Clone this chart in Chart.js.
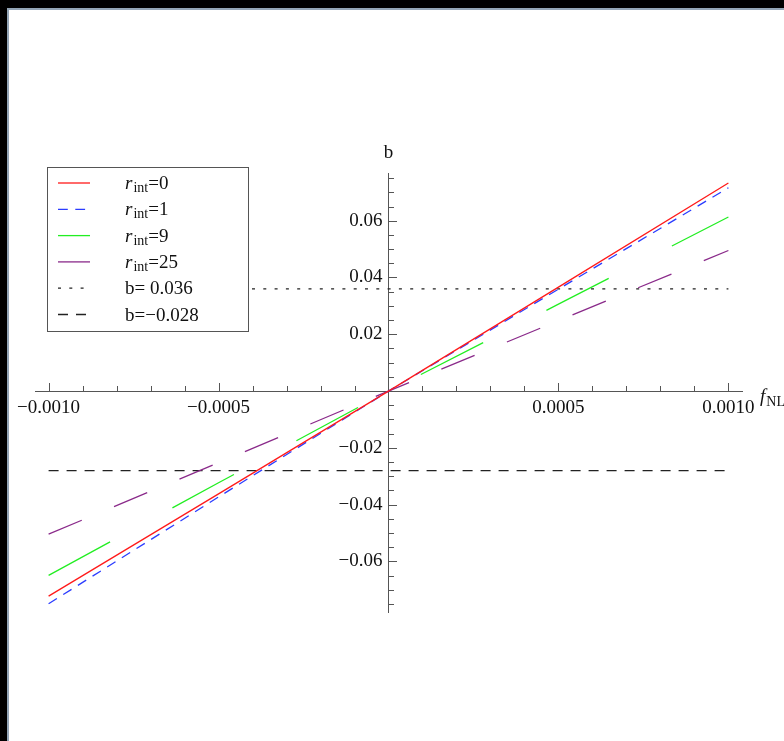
<!DOCTYPE html>
<html>
<head>
<meta charset="utf-8">
<script src="https://cdn.jsdelivr.net/npm/chart.js@4/dist/chart.umd.min.js"></script>
<style>
  html, body { margin: 0; padding: 0; background: #000; width: 784px; height: 741px; overflow: hidden; }
  #frame { position: absolute; left: 7px; top: 8px; width: 775px; height: 731px; background: #fff;
           border-left: 2px solid #93a5b6; border-top: 2px solid #93a5b6; }
  #c { position: absolute; left: 0; top: 0; }
</style>
</head>
<body>
<div id="frame"></div>
<canvas id="c" width="784" height="741"></canvas>
<script>
// ---- data ----
const fnlValues = [-0.001, -0.0005, 0, 0.0005, 0.001];
const bRint0  = [-0.0722, -0.0362, 0, 0.0366, 0.0733];
const bRint1  = [-0.0749, -0.0373, 0, 0.0359, 0.0716];
const bRint9  = [-0.0649, -0.0323, 0, 0.0306, 0.0613];
const bRint25 = [-0.0504, -0.0252, 0, 0.0248, 0.0495];
const hLineFnl = [-0.001, 0.001];
const bUpper = 0.036;
const bLower = -0.028;
const seriesNames = ['r_int=0', 'r_int=1', 'r_int=9', 'r_int=25', 'b= 0.036', 'b=\u22120.028'];
const xTickValues = [-0.001, -0.0005, 0.0005, 0.001];
const xTickLabels = ['\u22120.0010', '\u22120.0005', '0.0005', '0.0010'];
const yTickValues = [-0.06, -0.04, -0.02, 0.02, 0.04, 0.06];
const yTickLabels = ['\u22120.06', '\u22120.04', '\u22120.02', '0.02', '0.04', '0.06'];

const SERIF = '"Liberation Serif", "Times New Roman", serif';
const pts = (xs, ys) => xs.map((x, i) => ({x, y: ys[i]}));
const flat = (xs, v) => xs.map(x => ({x, y: v}));

const styles = [
  {borderColor: '#ff1a1a', borderDash: []},
  {borderColor: '#2b3cff', borderDash: [9.8, 7.5]},
  {borderColor: '#22ee22', borderDash: [70, 71]},
  {borderColor: '#8a2a8a', borderDash: [36, 35]},
  {borderColor: '#222222', borderDash: [3, 8.3]},
  {borderColor: '#222222', borderDash: [10, 8]}
];
const seriesData = [
  pts(fnlValues, bRint0), pts(fnlValues, bRint1), pts(fnlValues, bRint9), pts(fnlValues, bRint25),
  flat(hLineFnl, bUpper), flat(hLineFnl, bLower)
];
const datasets = seriesData.map((d, i) => Object.assign({
  label: seriesNames[i], data: d, borderWidth: 1.3, pointRadius: 0, fill: false, tension: 0
}, styles[i]));

const decoPlugin = {
  id: 'deco',
  afterDraw(chart) {
    const {ctx, scales: {x, y}} = chart;
    const x0 = x.getPixelForValue(0), y0 = y.getPixelForValue(0);
    ctx.save();
    ctx.strokeStyle = '#555';
    ctx.lineWidth = 1;
    ctx.setLineDash([]);
    for (let i = -10; i <= 10; i++) {
      if (i === 0) continue;
      const px = Math.round(x.getPixelForValue(i * 1e-4)) + 0.5;
      const len = (i % 5 === 0) ? 8 : 5;
      ctx.beginPath(); ctx.moveTo(px, Math.round(y0)); ctx.lineTo(px, Math.round(y0) - len); ctx.stroke();
    }
    for (let j = -16; j <= 16; j++) {
      if (j === 0) continue;
      const v = j * 0.005;
      if (v < y.min || v > y.max) continue;
      const py = Math.round(y.getPixelForValue(v)) + 0.5;
      const len = (j % 4 === 0) ? 8 : 5;
      ctx.beginPath(); ctx.moveTo(Math.round(x0), py); ctx.lineTo(Math.round(x0) + len, py); ctx.stroke();
    }
    // axis labels
    ctx.fillStyle = '#111';
    ctx.textBaseline = 'alphabetic';
    ctx.textAlign = 'center';
    ctx.font = '19px ' + SERIF;
    ctx.fillText('b', x0, y.top - 15);
    ctx.textAlign = 'left';
    ctx.font = 'italic 19px ' + SERIF;
    const fx = x.right + 18;
    ctx.fillText('f', fx, y0 + 11);
    const fw = ctx.measureText('f').width;
    ctx.font = '14px ' + SERIF;
    ctx.fillText('NL', fx + fw + 1, y0 + 15);

    // legend
    ctx.fillStyle = '#fff';
    ctx.fillRect(47.5, 167.5, 201, 164);
    ctx.strokeStyle = '#555';
    ctx.lineWidth = 1;
    ctx.strokeRect(47.5, 167.5, 201, 164);
    chart.data.datasets.forEach((ds, i) => {
      const yy = 183 + i * 26.3;
      ctx.save();
      ctx.beginPath();
      ctx.setLineDash(ds.borderDash || []);
      ctx.strokeStyle = ds.borderColor;
      ctx.lineWidth = ds.borderWidth;
      ctx.moveTo(58, yy); ctx.lineTo(90, yy); ctx.stroke();
      ctx.restore();
      ctx.fillStyle = '#111';
      ctx.textAlign = 'left';
      const base = yy + 6;
      const name = ds.label;
      if (name.startsWith('r_int')) {
        ctx.font = 'italic 19px ' + SERIF;
        ctx.fillText('r', 125, base);
        let cx = 125 + ctx.measureText('r').width + 1;
        ctx.font = '14px ' + SERIF;
        ctx.fillText('int', cx, base + 3);
        cx += ctx.measureText('int').width;
        ctx.font = '19px ' + SERIF;
        ctx.fillText(name.slice(5), cx, base);
      } else {
        ctx.font = '19px ' + SERIF;
        ctx.fillText(name, 125, base);
      }
    });
    ctx.restore();
  }
};

const tickFont = {family: SERIF, size: 19};
new Chart(document.getElementById('c'), {
  type: 'line',
  data: {datasets},
  options: {
    responsive: false,
    animation: false,
    devicePixelRatio: 1,
    layout: {padding: {left: 35, right: 42, top: 173, bottom: 129}},
    plugins: {legend: {display: false}, tooltip: {enabled: false}, title: {display: false}},
    scales: {
      x: {
        type: 'linear', min: -0.00104, max: 0.00104, position: {y: 0},
        grid: {display: true, drawOnChartArea: false, drawTicks: false, color: 'rgba(0,0,0,0)'},
        border: {display: true, color: '#555', width: 1},
        afterBuildTicks: s => { s.ticks = xTickValues.map(v => ({value: v})); },
        ticks: {font: tickFont, color: '#111', padding: 6, maxRotation: 0, autoSkip: false,
                callback: v => { const k = xTickValues.findIndex(t => Math.abs(t - v) < 1e-9); return k >= 0 ? xTickLabels[k] : ''; }},
        afterFit: s => { s.height = 0; }
      },
      y: {
        type: 'linear', min: -0.0778, max: 0.0768, position: 'center',
        grid: {display: true, drawOnChartArea: false, drawTicks: false, color: 'rgba(0,0,0,0)'},
        border: {display: true, color: '#555', width: 1},
        afterBuildTicks: s => { s.ticks = yTickValues.map(v => ({value: v})); },
        ticks: {font: tickFont, color: '#111', padding: 6, autoSkip: false,
                callback: v => { const k = yTickValues.findIndex(t => Math.abs(t - v) < 1e-9); return k >= 0 ? yTickLabels[k] : ''; }},
        afterFit: s => { s.width = 0; }
      }
    }
  },
  plugins: [decoPlugin]
});
</script>
</body>
</html>
